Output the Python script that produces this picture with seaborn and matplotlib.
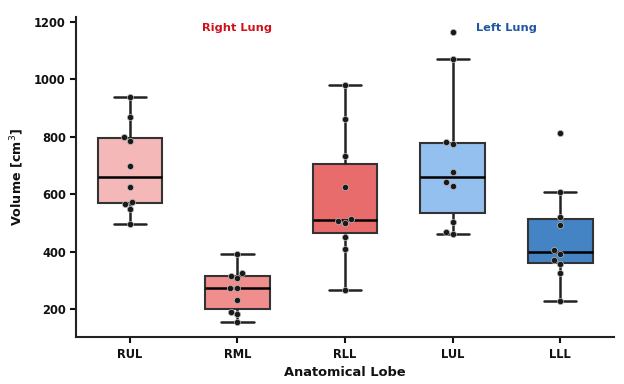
import matplotlib
matplotlib.use("Agg")
import matplotlib.pyplot as plt
import seaborn as sns
import pandas as pd

lobes = ["RUL", "RML", "RLL", "LUL", "LLL"]
rul = [495, 547, 566, 572, 624, 698, 785, 798, 868, 937]
rml = [155, 183, 191, 230, 272, 274, 307, 316, 326, 390]
rll = [265, 408, 452, 499, 508, 513, 624, 734, 862, 980]
lul = [462, 467, 504, 629, 641, 677, 773, 780, 1072, 1164]
lll = [228, 324, 357, 369, 392, 406, 491, 520, 609, 813]
box_colors = ["#F4B8B8", "#F08D8D", "#E96C6C", "#93C0EE", "#4584C4"]

series = [rul, rml, rll, lul, lll]
df = pd.DataFrame({
    "lobe": [l for l, vals in zip(lobes, series) for _ in vals],
    "volume": [v for vals in series for v in vals],
})

sns.set_style("white")
plt.rcParams["font.family"] = ["DejaVu Sans"]
plt.rcParams["text.color"] = "#111111"
plt.rcParams["axes.labelcolor"] = "#111111"
plt.rcParams["xtick.color"] = "#111111"
plt.rcParams["ytick.color"] = "#111111"

fig = plt.figure(figsize=(6.24, 3.84), dpi=100)
ax = fig.add_axes([0.122, 0.122, 0.862, 0.834])

sns.boxplot(data=df, x="lobe", y="volume", order=lobes, hue="lobe",
            palette=box_colors, saturation=1, legend=False, width=0.6,
            showfliers=False, linecolor="#333333", linewidth=1.5,
            medianprops=dict(color="black", linewidth=1.8),
            whiskerprops=dict(color="#222222", linewidth=1.8),
            capprops=dict(color="#222222", linewidth=1.8), ax=ax)
sns.swarmplot(data=df, x="lobe", y="volume", order=lobes, color="#1a1a1a",
              size=4.5, edgecolor="#bbbbbb", linewidth=0.5, ax=ax)

ax.text(1, 1180, "Right Lung", color="#D0111B", fontsize=8.2,
        fontweight="bold", ha="center", va="center")
ax.text(3.5, 1180, "Left Lung", color="#1F56A0", fontsize=8.2,
        fontweight="bold", ha="center", va="center")

ax.set_xlim(-0.5, 4.5)
ax.set_ylim(102, 1217)
ax.set_yticks([200, 400, 600, 800, 1000, 1200])
ax.set_xlabel("Anatomical Lobe", fontsize=9.4, fontweight="bold", labelpad=4)
ax.set_ylabel("Volume [cm$^3$]", fontsize=9.2, fontweight="bold", labelpad=6)
ax.tick_params(axis="both", labelsize=8.3, length=4, width=1.5,
               direction="out", bottom=True, left=True)
for lab in ax.get_xticklabels() + ax.get_yticklabels():
    lab.set_fontweight("bold")
sns.despine(ax=ax)
for s in ["left", "bottom"]:
    ax.spines[s].set_linewidth(1.5)
    ax.spines[s].set_color("#222222")

fig.savefig("out.png", dpi=100)
